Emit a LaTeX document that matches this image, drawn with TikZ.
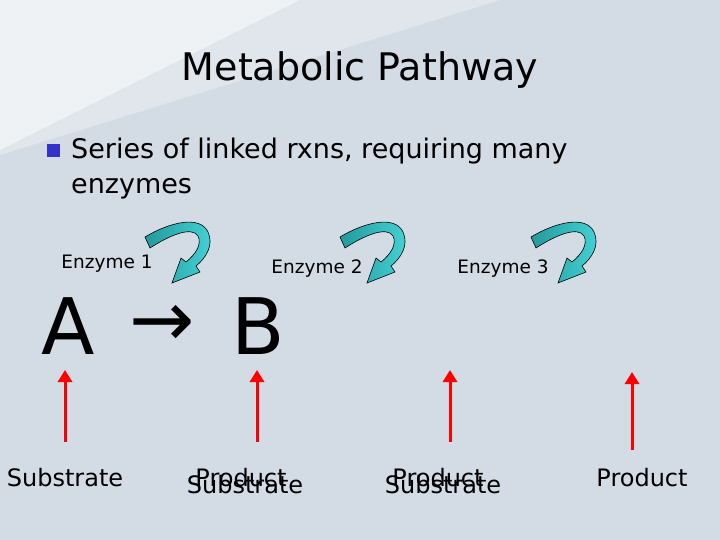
\documentclass[tikz,border=0pt]{standalone}
\usepackage{fontspec}
\setmainfont{DejaVu Sans}
\usetikzlibrary{arrows.meta}
\definecolor{slidebg}{HTML}{D3DCE4}
\definecolor{bullet}{HTML}{3333CC}
\definecolor{teal1}{HTML}{2AB5B8}
\definecolor{teal2}{HTML}{45D3D6}
\tikzset{
  lbl/.style={inner sep=0pt, font=\fontsize{24}{26}\selectfont},
  enz/.style={inner sep=0pt, font=\fontsize{18.5}{20}\selectfont},
  big/.style={inner sep=0pt, font=\fontsize{78}{80}\selectfont},
  redarrow/.style={red, line width=3pt, -{Triangle[length=12pt,width=14pt]}}
}
% curled enzyme arrow, offset by #1
\newcommand{\curl}[1]{%
  \begin{scope}[xshift=#1]
    \shade[left color=teal1!85!black, right color=teal2, draw=black, line width=0.6pt]
      (145,237) .. controls (170,222) and (200,215) .. (208,232)
      .. controls (214,245) and (206,258) .. (196,266)
      -- (200,272) -- (172,283) -- (181,258) -- (186,262)
      .. controls (196,254) and (202,244) .. (198,236)
      .. controls (192,226) and (170,235) .. (150,248) -- cycle;
  \end{scope}}
\begin{document}
\begin{tikzpicture}[x=1pt,y=-1pt]
\useasboundingbox (0,0) rectangle (720,540);
% background
\fill[slidebg] (0,0) rectangle (720,540);
\fill[white, opacity=0.5] (0,0) -- (300,0) -- (0,150) -- cycle;
\fill[white, opacity=0.3] (0,0) -- (500,0) -- (0,155) -- cycle;

% title and bullet
\node[inner sep=0pt, font=\fontsize{38}{40}\selectfont] (title) at (360,70) {Metabolic Pathway};
\fill[bullet] (47,144) rectangle (60,157);
\node[inner sep=0pt, anchor=west, font=\fontsize{27}{29}\selectfont] (line1) at (71,151) {Series of linked rxns, requiring many};
\node[inner sep=0pt, anchor=west, font=\fontsize{27}{29}\selectfont] (line2) at (71,189) {enzymes};

% enzymes
\node[enz] (enz1) at (107,264) {Enzyme 1};
\node[enz] (enz2) at (317,269) {Enzyme 2};
\node[enz] (enz3) at (503,269) {Enzyme 3};
\curl{0}
\curl{195}
\curl{386}

% reaction
\node[big] (ra) at (68,326) {A};
\node[big] (rarr) at (162,326) {→};
\node[big] (rb) at (258,326) {B};

% labels
\node[lbl] (sub1) at (65,478) {Substrate};
\node[lbl] (prod1) at (241,478) {Product};
\node[lbl] (sub2) at (245,485) {Substrate};
\node[lbl] (prod2) at (438,478) {Product};
\node[lbl] (sub3) at (443,485) {Substrate};
\node[lbl] (prod3) at (642,478) {Product};

\coordinate (b1) at (65,442);
\coordinate (b2) at (257,442);
\coordinate (b3) at (450,442);
\coordinate (b4) at (632,450);
\coordinate (t1) at (65,370);
\coordinate (t2) at (257,370);
\coordinate (t3) at (450,370);
\coordinate (t4) at (632,372);
\foreach \i in {1,...,4}
  \draw[redarrow] (b\i) -- (t\i);
\end{tikzpicture}
\end{document}
